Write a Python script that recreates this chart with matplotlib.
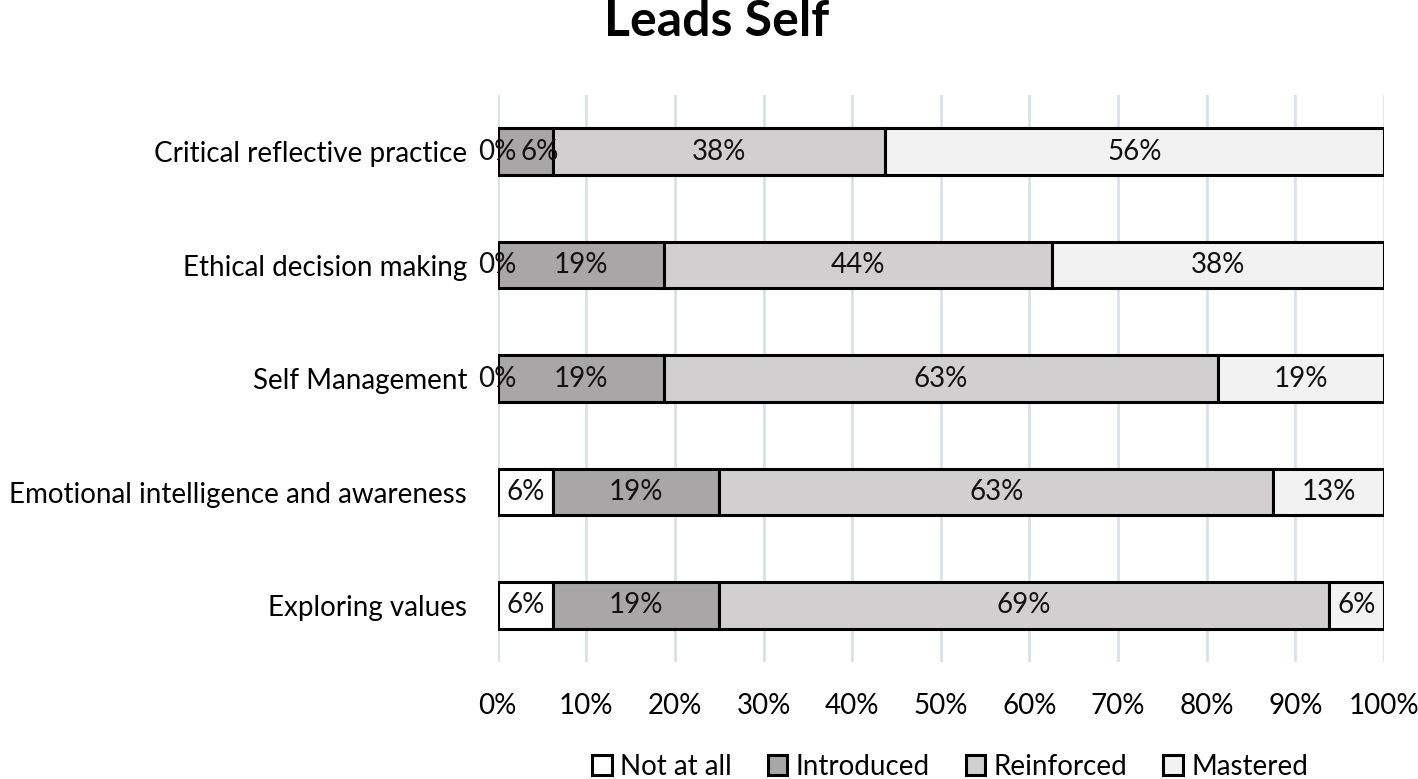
import matplotlib
matplotlib.use("Agg")
import matplotlib.pyplot as plt
import numpy as np
import math
from matplotlib.ticker import FuncFormatter

categories = ["Exploring values", "Emotional intelligence and awareness",
              "Self Management", "Ethical decision making", "Critical reflective practice"]
series = ["Not at all", "Introduced", "Reinforced", "Mastered"]
not_at_all = [6.25, 6.25, 0.0, 0.0, 0.0]
introduced = [18.75, 18.75, 18.75, 18.75, 6.25]
reinforced = [68.75, 62.5, 62.5, 43.75, 37.5]
mastered = [6.25, 12.5, 18.75, 37.5, 56.25]
colors = ["#FFFFFF", "#A9A6A7", "#D1CFD0", "#F2F2F2"]

plt.rcParams['font.family'] = ['Lato', 'DejaVu Sans']

fig = plt.figure(figsize=(14.18, 7.79), dpi=100)
ax = fig.add_axes([0.351, 0.150, 0.625, 0.728])


def pct(v):
    return f"{int(math.floor(v + 0.5))}%"


y = np.arange(len(categories))
left = np.zeros(len(categories))
data = [not_at_all, introduced, reinforced, mastered]
prev = np.ones(len(categories))
for name, vals, c in zip(series, data, colors):
    vals = np.array(vals)
    ax.barh(y, vals, left=left, height=0.41, color=c, edgecolor="black",
            linewidth=2.2, label=name, zorder=3)
    for yi, l, v, pv in zip(y, left, vals, prev):
        xpos = l + v / 2
        if pv == 0 and 0 < v < 10:
            xpos += 1.6
        ax.text(xpos, yi, pct(v), ha="center", va="center",
                fontsize=20, color="#111111", zorder=4)
    left = left + vals
    prev = vals

ax.set_xlim(0, 100)
ax.set_ylim(-0.5, 4.5)
ax.set_xticks(np.arange(0, 101, 10))
ax.xaxis.set_major_formatter(FuncFormatter(lambda v, p: f"{v:.0f}%"))
ax.set_yticks(y)
ax.set_yticklabels(categories)
ax.tick_params(axis="both", length=0, labelsize=20)
ax.tick_params(axis="x", pad=22)
ax.tick_params(axis="y", pad=22)
ax.grid(axis="x", color="#D9E1E8", linewidth=2, zorder=0)
for s in ax.spines.values():
    s.set_visible(False)

fig.text(0.505, 0.972, "Leads Self", ha="center", va="center", fontsize=36, fontweight="bold")

fig.legend(loc="center", bbox_to_anchor=(0.67, 0.016), ncol=4, frameon=False,
           fontsize=20, handlelength=0.7, handleheight=0.7, handletextpad=0.3,
           columnspacing=1.3, borderpad=0.1)

fig.savefig("out.png", dpi=100)
